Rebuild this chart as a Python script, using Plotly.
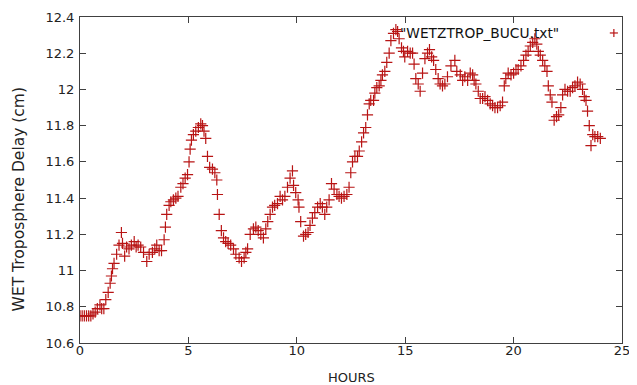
import plotly.graph_objects as go

hours = [0.0, 0.1, 0.2, 0.3, 0.4, 0.5, 0.6, 0.7, 0.8, 0.92, 1.0, 1.1, 1.19, 1.3, 1.39, 1.45, 1.5, 1.57,
         1.69, 1.8, 1.91, 1.96, 2.06, 2.15, 2.26, 2.37, 2.5, 2.59, 2.68, 2.8, 2.93, 3.08, 3.19, 3.34,
         3.45, 3.54, 3.65, 3.76, 3.88, 3.94, 4.0, 4.11, 4.19, 4.31, 4.42, 4.52, 4.65, 4.75, 4.85, 4.96,
         5.03, 5.08, 5.14, 5.23, 5.34, 5.46, 5.57, 5.65, 5.72, 5.8, 5.88, 5.98, 6.11, 6.22, 6.31, 6.34,
         6.42, 6.52, 6.62, 6.72, 6.83, 6.95, 7.08, 7.19, 7.34, 7.45, 7.57, 7.65, 7.73, 7.85, 8.0, 8.11,
         8.22, 8.34, 8.46, 8.57, 8.66, 8.77, 8.88, 8.98, 9.11, 9.23, 9.34, 9.45, 9.57, 9.69, 9.8, 9.85,
         9.95, 10.06, 10.1, 10.18, 10.31, 10.41, 10.52, 10.61, 10.72, 10.83, 10.96, 11.08, 11.18, 11.29,
         11.38, 11.49, 11.6, 11.72, 11.85, 11.95, 12.06, 12.18, 12.31, 12.41, 12.49, 12.57, 12.68, 12.8,
         12.88, 12.99, 13.08, 13.18, 13.26, 13.34, 13.41, 13.54, 13.6, 13.69, 13.8, 13.88, 13.95, 14.06,
         14.15, 14.26, 14.34, 14.46, 14.57, 14.65, 14.72, 14.83, 14.92, 14.98, 15.11, 15.23, 15.34, 15.41,
         15.49, 15.6, 15.69, 15.8, 15.91, 16.03, 16.12, 16.22, 16.31, 16.41, 16.52, 16.61, 16.72, 16.83,
         16.95, 17.11, 17.29, 17.38, 17.54, 17.65, 17.75, 17.88, 18.0, 18.11, 18.18, 18.26, 18.37, 18.46,
         18.57, 18.68, 18.8, 18.92, 19.03, 19.14, 19.26, 19.38, 19.49, 19.57, 19.64, 19.75, 19.88, 20.0,
         20.11, 20.21, 20.34, 20.46, 20.57, 20.67, 20.77, 20.88, 20.98, 21.07, 21.14, 21.23, 21.34, 21.44,
         21.54, 21.6, 21.69, 21.77, 21.87, 21.98, 22.08, 22.18, 22.26, 22.37, 22.49, 22.61, 22.72, 22.83,
         22.95, 23.07, 23.18, 23.26, 23.34, 23.41, 23.49, 23.57, 23.65, 23.75, 23.88, 24.0]

wet_delay = [10.75, 10.75, 10.75, 10.75, 10.75, 10.75, 10.76, 10.77, 10.79, 10.81, 10.79, 10.79, 10.84, 10.88,
             10.93, 10.97, 11.01, 11.04, 11.09, 11.14, 11.21, 11.15, 11.08, 11.13, 11.12, 11.14, 11.16, 11.13,
             11.14, 11.13, 11.10, 11.05, 11.09, 11.10, 11.12, 11.14, 11.11, 11.11, 11.17, 11.24, 11.31, 11.36,
             11.38, 11.39, 11.40, 11.41, 11.46, 11.48, 11.51, 11.53, 11.60, 11.67, 11.72, 11.75, 11.77, 11.79,
             11.81, 11.80, 11.77, 11.73, 11.63, 11.57, 11.56, 11.54, 11.50, 11.42, 11.31, 11.22, 11.18, 11.16,
             11.15, 11.14, 11.12, 11.09, 11.07, 11.05, 11.07, 11.10, 11.12, 11.20, 11.23, 11.24, 11.22, 11.20,
             11.18, 11.23, 11.27, 11.31, 11.35, 11.36, 11.37, 11.41, 11.39, 11.41, 11.46, 11.51, 11.55, 11.47,
             11.43, 11.39, 11.35, 11.27, 11.19, 11.20, 11.21, 11.25, 11.29, 11.32, 11.35, 11.37, 11.35, 11.31,
             11.35, 11.39, 11.48, 11.45, 11.42, 11.41, 11.40, 11.41, 11.42, 11.46, 11.54, 11.60, 11.63, 11.63,
             11.66, 11.71, 11.76, 11.79, 11.86, 11.92, 11.94, 11.94, 11.98, 12.01, 12.02, 12.05, 12.08, 12.10,
             12.15, 12.20, 12.27, 12.31, 12.33, 12.32, 12.28, 12.23, 12.21, 12.18, 12.21, 12.20, 12.20, 12.14,
             12.06, 12.03, 11.99, 12.09, 12.17, 12.20, 12.22, 12.18, 12.16, 12.11, 12.06, 12.03, 12.02, 12.03,
             12.07, 12.13, 12.16, 12.10, 12.08, 12.05, 12.07, 12.05, 12.09, 12.08, 12.05, 12.03, 11.99, 11.95,
             11.95, 11.96, 11.94, 11.92, 11.91, 11.90, 11.90, 11.91, 11.93, 12.02, 12.06, 12.09, 12.08, 12.09,
             12.11, 12.11, 12.13, 12.16, 12.19, 12.21, 12.24, 12.26, 12.28, 12.25, 12.21, 12.19, 12.16, 12.13,
             12.10, 12.02, 11.97, 11.93, 11.83, 11.85, 11.86, 11.90, 11.97, 12.00, 11.99, 11.99, 12.01, 12.02,
             12.04, 12.03, 12.00, 11.96, 11.94, 11.88, 11.80, 11.69, 11.75, 11.74, 11.74, 11.73]

x_ticks = [0, 5, 10, 15, 20, 25]
y_ticks = [10.6, 10.8, 11.0, 11.2, 11.4, 11.6, 11.8, 12.0, 12.2, 12.4]
y_tick_text = ["10.6", "10.8", "11", "11.2", "11.4", "11.6", "11.8", "12", "12.2", "12.4"]
series_name = '"WETZTROP_BUCU.txt"'
x_title = "HOURS"
y_title = "WET Troposphere Delay (cm)"

font_family = "DejaVu Sans"
axis_color = "#404040"
text_color = "#222222"
mark_color = "#b81414"

fig = go.Figure()
fig.add_trace(go.Scatter(
    x=hours, y=wet_delay, mode="markers", name=series_name,
    marker=dict(symbol="cross-thin", size=8, line=dict(color=mark_color, width=1.2)),
    showlegend=False,
))

axis_common = dict(
    showgrid=False, zeroline=False, showline=True, linecolor=axis_color, linewidth=1,
    mirror="allticks", ticks="inside", ticklen=6, tickcolor=axis_color, tickwidth=1,
    tickfont=dict(family=font_family, size=13, color=text_color), automargin=False,
)

# page body has an 8px margin, so the figure is sized/offset to land the plot box where the reference has it
fig.update_layout(
    width=629, height=377,
    margin=dict(l=72, r=15, t=9, b=42),
    paper_bgcolor="white", plot_bgcolor="white",
    xaxis=dict(range=[0, 25], tickvals=x_ticks, ticklabelstandoff=-5, **axis_common),
    yaxis=dict(range=[10.6, 12.4], tickvals=y_ticks, ticktext=y_tick_text, ticklabelstandoff=2,
               **axis_common),
    font=dict(family=font_family, size=13, color=text_color),
)

# axis titles
fig.add_annotation(xref="paper", yref="paper", x=0.5, y=-0.107, xanchor="center", yanchor="middle",
                   text=x_title, showarrow=False, font=dict(family=font_family, size=13, color=text_color))
fig.add_annotation(xref="paper", yref="paper", x=-0.1135, y=0.442, xanchor="center", yanchor="middle",
                   textangle=-90, text=y_title, showarrow=False,
                   font=dict(family=font_family, size=15.5, color=text_color))

# gnuplot-style key: text then sample on the right
fig.add_annotation(xref="paper", yref="paper", x=0.887, y=0.951, xanchor="right", yanchor="middle",
                   text=series_name, showarrow=False, font=dict(family=font_family, size=13.75, color="#111111"))
cx, cy, dx, dy = 0.985, 0.951, 0.0075, 0.0125
fig.add_shape(type="line", xref="paper", yref="paper", x0=cx - dx, x1=cx + dx, y0=cy, y1=cy,
              line=dict(color=mark_color, width=1.2))
fig.add_shape(type="line", xref="paper", yref="paper", x0=cx, x1=cx, y0=cy - dy, y1=cy + dy,
              line=dict(color=mark_color, width=1.2))

fig.write_html("out.html")
